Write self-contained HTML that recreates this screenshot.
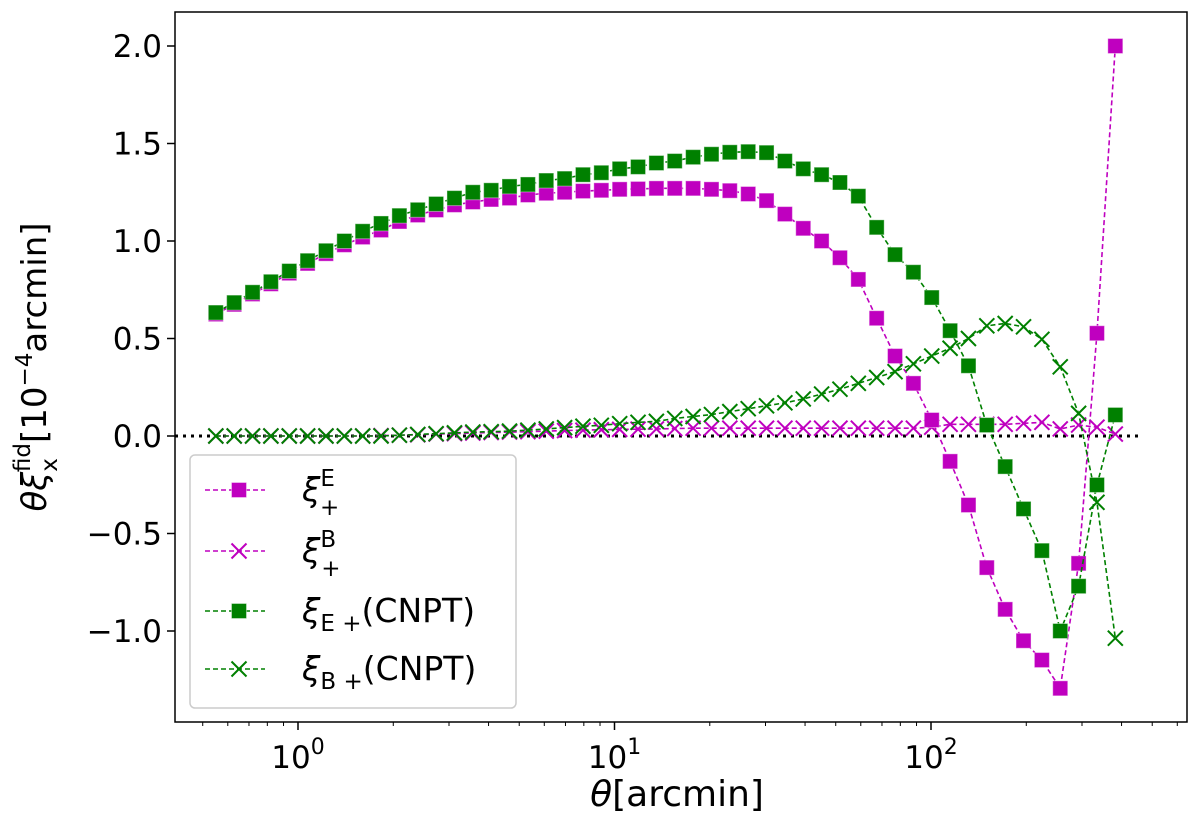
<!DOCTYPE html>
<html><head><meta charset="utf-8"><style>
body{margin:0;background:#fff;}
svg text{font-family:"DejaVu Sans","Liberation Sans",sans-serif;}
</style></head><body>
<svg id="chart" width="1200" height="811" xmlns="http://www.w3.org/2000/svg">
<g id="grid"></g>
<g id="series"></g>
<rect x="175" y="12" width="1012" height="710" fill="none" stroke="#000" stroke-width="1.5"/>
<g id="axes"></g>
<text x="677" y="806" font-size="36" text-anchor="middle"><tspan font-style="italic">θ</tspan>[arcmin]</text>
<text transform="translate(46,367) rotate(-90)" font-size="34" text-anchor="middle"><tspan font-style="italic">θξ</tspan><tspan font-size="23" dy="11">x</tspan><tspan font-size="23" dx="-14" dy="-27">fid</tspan><tspan dy="16">[10</tspan><tspan font-size="23" dy="-14">−4</tspan><tspan dy="14">arcmin]</tspan></text>
<g id="legend">
<rect x="190" y="455" width="326" height="253" rx="5" fill="#fff" fill-opacity="0.8" stroke="#ccc" stroke-width="1.5"/>
</g>
</svg>
<script>
const idx = Array.from({length:50},(_,i)=>i);
const thetaStart = 0.55, logStep = 0.058;
const xiEplus = [0.625,0.675,0.728,0.78,0.835,0.885,0.935,0.98,1.02,1.056,1.10,1.133,1.159,1.185,1.20,1.213,1.22,1.236,1.245,1.25,1.256,1.26,1.265,1.267,1.27,1.27,1.27,1.265,1.258,1.241,1.207,1.138,1.065,1.0,0.914,0.803,0.604,0.41,0.27,0.082,-0.13,-0.354,-0.675,-0.889,-1.05,-1.149,-1.294,-0.653,0.527,2.0];
const xiBplus = [0,0,0,0,0,0,0,0,0,0.002,0.004,0.006,0.01,0.012,0.015,0.018,0.02,0.022,0.025,0.028,0.03,0.032,0.034,0.035,0.036,0.038,0.04,0.04,0.04,0.04,0.04,0.04,0.04,0.04,0.04,0.04,0.04,0.04,0.04,0.045,0.06,0.06,0.06,0.06,0.065,0.07,0.036,0.056,0.045,0.01];
const xiEcnpt = [0.633,0.684,0.737,0.791,0.846,0.899,0.95,1.0,1.05,1.09,1.13,1.16,1.19,1.22,1.25,1.26,1.28,1.29,1.31,1.32,1.34,1.35,1.37,1.38,1.40,1.41,1.43,1.445,1.455,1.458,1.453,1.41,1.37,1.34,1.30,1.23,1.07,0.93,0.84,0.71,0.54,0.36,0.056,-0.157,-0.374,-0.588,-1.0,-0.77,-0.251,0.108];
const xiBcnpt = [0,0,0,0,0,0,0,0,0,0,0.004,0.008,0.012,0.016,0.02,0.022,0.025,0.03,0.036,0.043,0.05,0.055,0.063,0.07,0.075,0.09,0.1,0.11,0.125,0.14,0.155,0.17,0.19,0.215,0.24,0.27,0.3,0.33,0.37,0.41,0.45,0.5,0.565,0.577,0.56,0.496,0.355,0.116,-0.34,-1.037];
const yTicks = [-1.0,-0.5,0.0,0.5,1.0,1.5,2.0];
const yTickLabels = ["−1.0","−0.5","0.0","0.5","1.0","1.5","2.0"];
const xDecades = [0,1,2];

const X = t => 298 + 316.5*Math.log10(t);
const Y = v => 436 - 195*v;
const NS='http://www.w3.org/2000/svg';
function mk(tag,attrs,parent){const e=document.createElementNS(NS,tag);for(const k in attrs)e.setAttribute(k,attrs[k]);parent.appendChild(e);return e;}
const axes=document.getElementById('axes'), series=document.getElementById('series'), legend=document.getElementById('legend');

yTicks.forEach((v,i)=>{
  const l=mk('line',{x1:167,x2:175,y1:Y(v),y2:Y(v),stroke:'#000','stroke-width':1.5},axes);
  
  
  const t=mk('text',{x:162,y:Y(v)+11,'font-size':31,'text-anchor':'end'},axes);
  t.textContent=yTickLabels[i];
  
  
});
for(let d=-1;d<=2;d++){for(let m=1;m<=9;m++){
  const t=m*Math.pow(10,d), x=X(t);
  if(x<175||x>1187)continue;
  const major=m===1;
  const l=mk('line',{x1:x,x2:x,y1:722,y2:major?730:726,stroke:'#000','stroke-width':major?1.5:1},axes);
  
  
}}
xDecades.forEach(d=>{
  const t=mk('text',{x:X(Math.pow(10,d)),y:768,'font-size':31,'text-anchor':'middle'},axes);
  t.innerHTML='10<tspan font-size="22" dy="-14">'+d+'</tspan>';
  
  
});

const zl=mk('line',{x1:175,x2:1140,y1:Y(0),y2:Y(0),stroke:'#000','stroke-width':3,'stroke-dasharray':'3,5'},series);



function marker(type,x,y,color,parent){
  if(type==='s'){
    return mk('rect',{x:x-7.5,y:y-7.5,width:15,height:15,fill:color,stroke:'#fff','stroke-opacity':0.4,'stroke-width':1},parent);
  }
  return mk('path',{d:`M${x-7.5} ${y-7.5}L${x+7.5} ${y+7.5}M${x-7.5} ${y+7.5}L${x+7.5} ${y-7.5}`,stroke:color,'stroke-width':2,fill:'none'},parent);
}
function drawSeries(vals,color,type,name){
  const g=mk('g',{},series);
  
  
  const pts=idx.map(i=>[X(thetaStart*Math.pow(10,logStep*i)),Y(vals[i])]);
  const p=mk('polyline',{points:pts.map(p=>p.join(',')).join(' '),fill:'none',stroke:color,'stroke-width':1.6,'stroke-dasharray':'5,3'},g);
  
  
  pts.forEach(pt=>{const m=marker(type,pt[0],pt[1],color,g);
    
    });
}
const MAG='#bf00bf', GRN='#008000';
drawSeries(xiBplus,MAG,'x','xi-b-plus');
drawSeries(xiEplus,MAG,'s','xi-e-plus');
drawSeries(xiBcnpt,GRN,'x','xi-b-cnpt');
drawSeries(xiEcnpt,GRN,'s','xi-e-cnpt');

const entries=[[MAG,'s',490,'<tspan font-style="italic">ξ</tspan><tspan font-size="23" dy="-15">E</tspan><tspan font-size="23" dx="-15" dy="29">+</tspan>'],
 [MAG,'x',551,'<tspan font-style="italic">ξ</tspan><tspan font-size="23" dy="-15">B</tspan><tspan font-size="23" dx="-15" dy="29">+</tspan>'],
 [GRN,'s',611,'<tspan font-style="italic">ξ</tspan><tspan font-size="23" dy="9">E +</tspan><tspan dy="-9">(CNPT)</tspan>'],
 [GRN,'x',669,'<tspan font-style="italic">ξ</tspan><tspan font-size="23" dy="9">B +</tspan><tspan dy="-9">(CNPT)</tspan>']];
entries.forEach(e=>{
  const g=mk('g',{},legend);
  
  
  mk('line',{x1:205,x2:265,y1:e[2],y2:e[2],stroke:e[0],'stroke-width':1.6,'stroke-dasharray':'5,3'},g);
  marker(e[1],239,e[2],e[0],g);
  const t=mk('text',{x:302,y:e[2]+11,'font-size':33},g);
  t.innerHTML=e[3];
});
</script>
</body></html>
